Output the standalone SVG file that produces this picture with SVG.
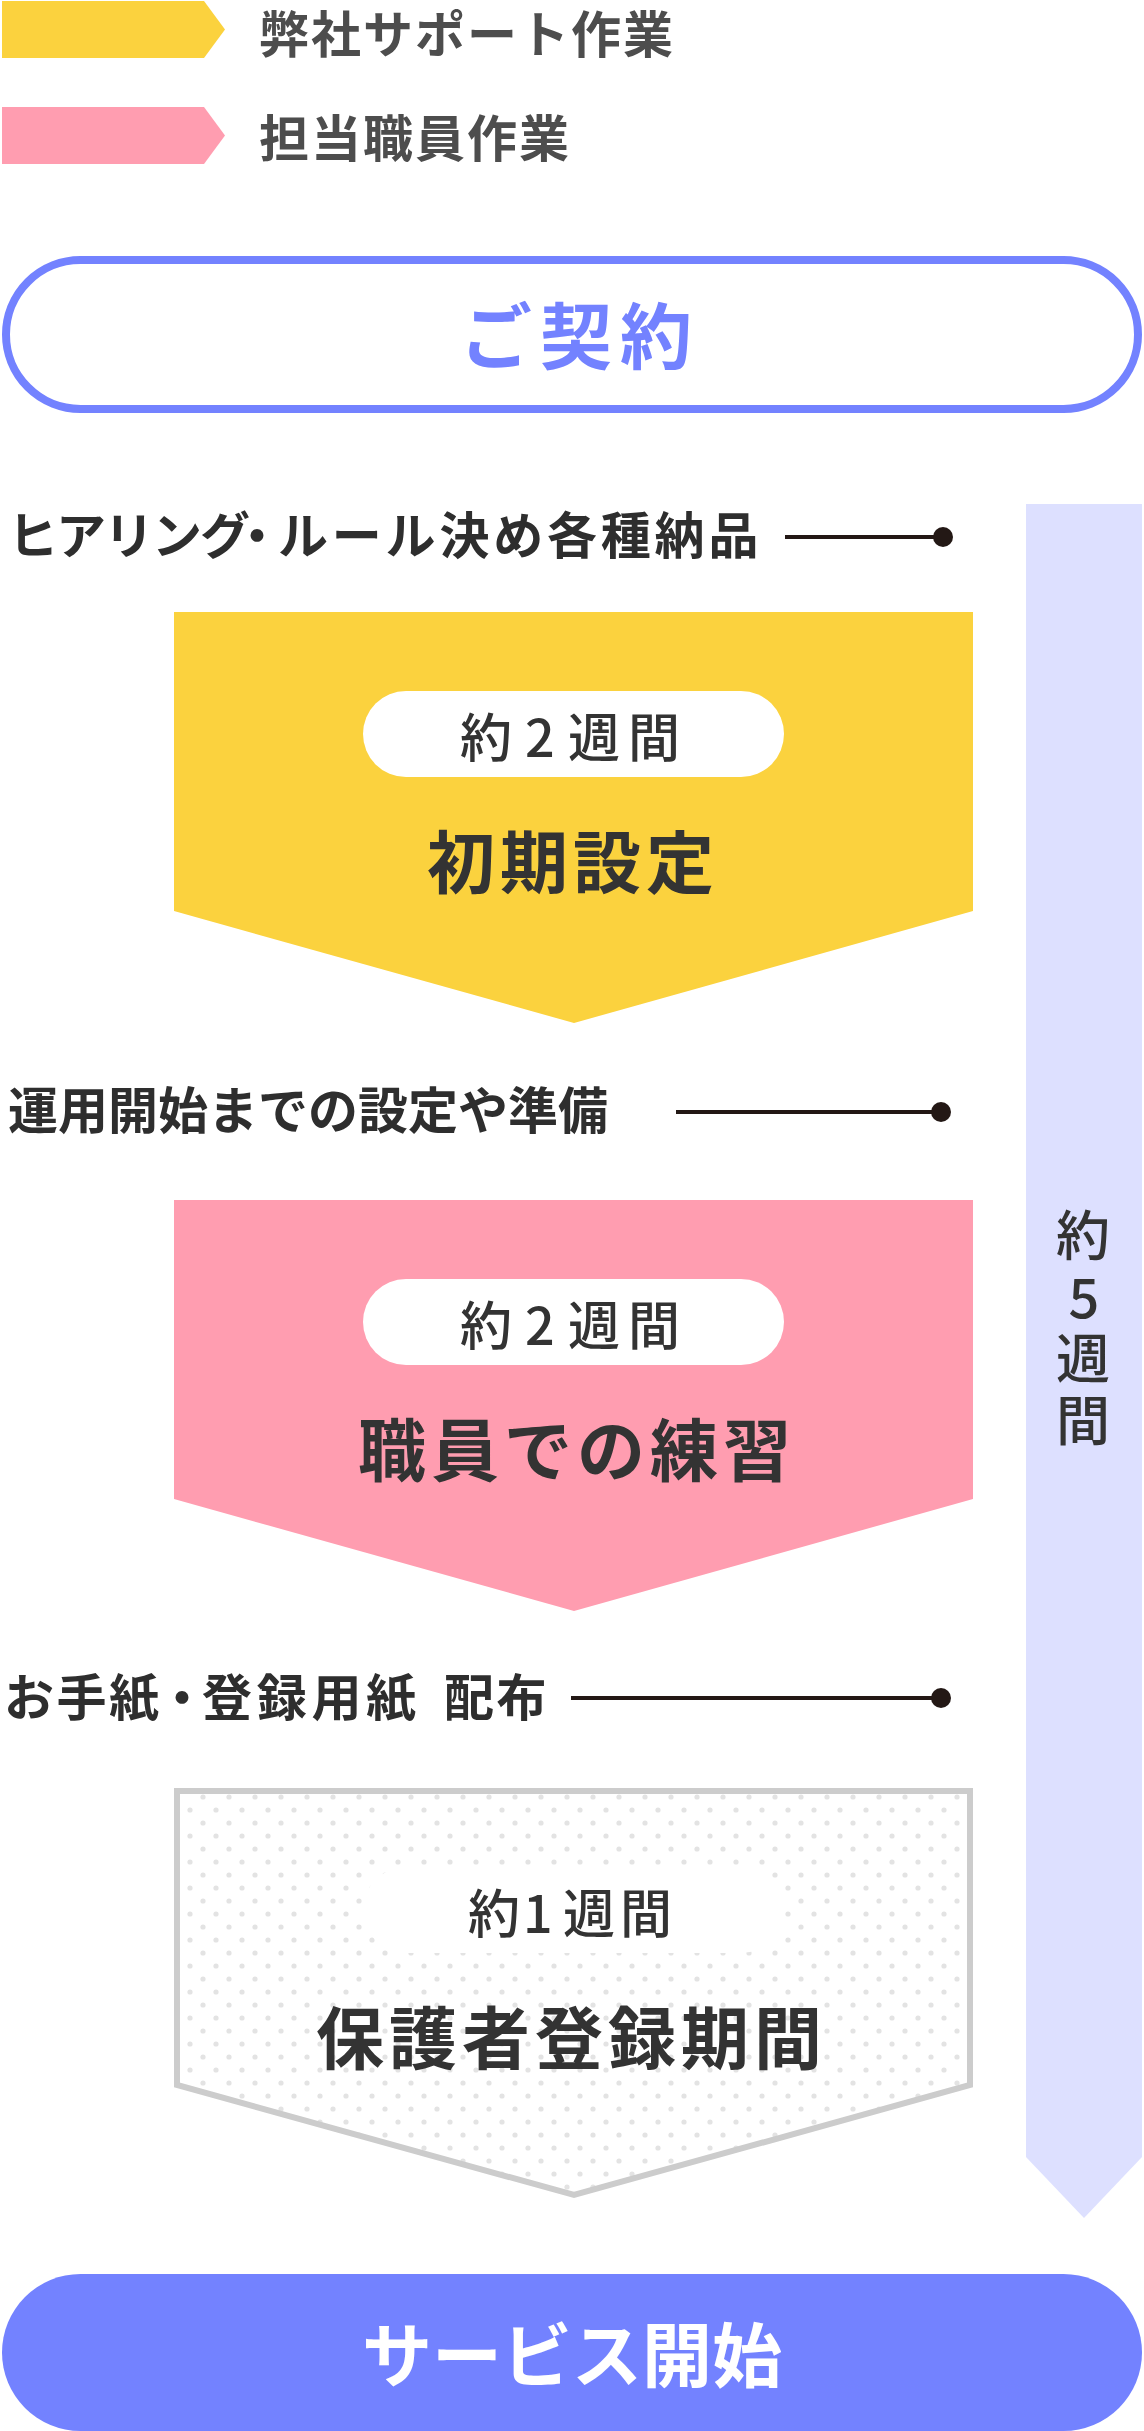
<svg xmlns="http://www.w3.org/2000/svg" width="1144" height="2431" viewBox="0 0 1144 2431">
<style>
text{font-family:"Noto Sans CJK JP","Noto Sans",sans-serif;}
.legend{font-size:50px;font-weight:700;fill:#4D4D4D;letter-spacing:2px;}
.label{font-size:50px;font-weight:700;fill:#2E2E2E;}
.title{font-size:68px;font-weight:700;fill:#333333;letter-spacing:5px;}
.pilltxt{font-size:52px;font-weight:500;fill:#333333;}
.bartxt{font-size:54px;font-weight:500;fill:#333333;text-anchor:middle;}
.lead{stroke:#231815;stroke-width:4;}
.dot{fill:#231815;}
.pill{fill:#FFFFFF;}
</style>
<defs>
<pattern id="dots" patternUnits="userSpaceOnUse" x="190" y="1797" width="26" height="26">
<circle cx="13" cy="0" r="2.6" fill="#E3E3E3"/>
<circle cx="13" cy="26" r="2.6" fill="#E3E3E3"/>
<circle cx="0" cy="13" r="2.6" fill="#E3E3E3"/>
<circle cx="26" cy="13" r="2.6" fill="#E3E3E3"/>
</pattern>
</defs>
<rect width="1144" height="2431" fill="#FFFFFF"/>

<g id="legend-support">
<polygon points="2,1 204,1 225,29.5 204,58 2,58" fill="#FBD23E"/>
<text class="legend" x="259" y="53">弊社サポート作業</text>
</g>
<g id="legend-staff">
<polygon points="2,107 204,107 225,135.5 204,164 2,164" fill="#FF9DB0"/>
<text class="legend" x="259" y="157">担当職員作業</text>
</g>

<g id="contract">
<rect x="6" y="260" width="1132" height="149" rx="74.5" fill="#FFFFFF" stroke="#7382FF" stroke-width="8"/>
<text x="460" y="363" font-size="72" font-weight="700" fill="#7382FF" letter-spacing="8">ご契約</text>
</g>

<g id="period-bar">
<polygon points="1026,504 1142,504 1142,2157 1084,2218 1026,2157" fill="#DDE0FF"/>
<text class="bartxt" x="1083" y="1256">約</text>
<text class="bartxt" x="1084" y="1318">5</text>
<text class="bartxt" x="1083" y="1379">週</text>
<text class="bartxt" x="1083" y="1441">間</text>
</g>

<g id="label-hearing">
<text class="label" y="554"><tspan x="8" letter-spacing="-2">ヒアリング</tspan><tspan x="232">・</tspan><tspan x="278" letter-spacing="3.8">ルール決め各種納品</tspan></text>
</g>
<g id="label-prep">
<text class="label" x="8" y="1129">運用開始までの設定や準備</text>
</g>
<g id="label-letter">
<text class="label" y="1716"><tspan x="4" letter-spacing="2.5">お手紙</tspan><tspan x="157">・</tspan><tspan x="202" letter-spacing="4.7">登録用紙</tspan><tspan x="444" letter-spacing="2.5">配布</tspan></text>
</g>

<g id="connectors">
<line class="lead" x1="785" y1="537" x2="943" y2="537"/>
<circle class="dot" cx="943" cy="537" r="10"/>
<line class="lead" x1="676" y1="1112" x2="941" y2="1112"/>
<circle class="dot" cx="941" cy="1112" r="10"/>
<line class="lead" x1="571" y1="1698" x2="941" y2="1698"/>
<circle class="dot" cx="941" cy="1698" r="10"/>
</g>

<g id="step-initial">
<polygon points="174,612 973,612 973,911 574,1023 174,911" fill="#FBD23E"/>
<rect class="pill" x="363" y="691" width="421" height="86" rx="43"/>
<text class="pilltxt" x="460 525 568 628" y="757">約2週間</text>
<text class="title" x="427" y="888">初期設定</text>
</g>

<g id="step-practice">
<polygon points="174,1200 973,1200 973,1499 574,1611 174,1499" fill="#FF9DB0"/>
<rect class="pill" x="363" y="1279" width="421" height="86" rx="43"/>
<text class="pilltxt" x="460 525 568 628" y="1345">約2週間</text>
<text class="title" x="358" y="1476" letter-spacing="4.6">職員での練習</text>
</g>

<g id="step-register">
<polygon points="177,1791 970,1791 970,2085 574,2195 177,2085" fill="#FFFFFF"/>
<polygon points="177,1791 970,1791 970,2085 574,2195 177,2085" fill="url(#dots)" stroke="#CCCCCC" stroke-width="6"/>
<rect class="pill" x="363" y="1867" width="421" height="86" rx="43"/>
<text class="pilltxt" x="468 523 563 620" y="1933">約1週間</text>
<text class="title" x="316" y="2064" letter-spacing="5.5">保護者登録期間</text>
</g>

<g id="service-start">
<rect x="2" y="2274" width="1140" height="157" rx="78.5" fill="#7382FF"/>
<text x="362" y="2382" font-size="70" font-weight="700" fill="#FFFFFF">サービス開始</text>
</g>
</svg>
